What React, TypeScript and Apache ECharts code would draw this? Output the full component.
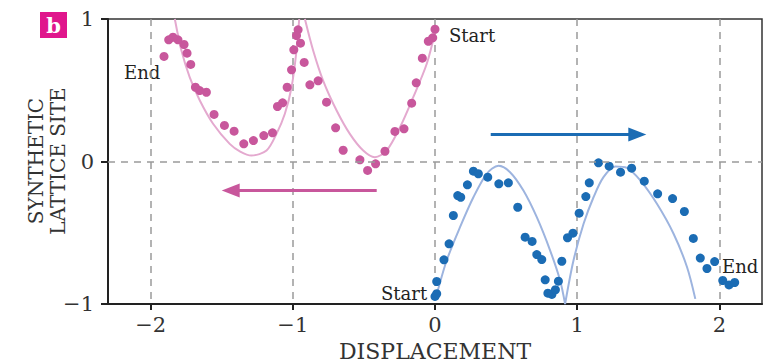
import React, { useEffect, useRef } from 'react';
import * as echarts from 'echarts';

const xTicks = [-2, -1, 0, 1, 2];
const yTicks = [-1, 0, 1];

const pinkDots: number[][] = [
  [0.0, 0.928], [-0.016, 0.868], [-0.047, 0.844], [-0.089, 0.725], [-0.132, 0.552],
  [-0.164, 0.409], [-0.218, 0.229], [-0.282, 0.211], [-0.352, 0.072], [-0.418, -0.016],
  [-0.474, -0.063], [-0.528, 0.012], [-0.646, 0.079], [-0.699, 0.236], [-0.763, 0.416],
  [-0.822, 0.566], [-0.88, 0.538], [-0.92, 0.695], [-0.946, 0.83], [-0.963, 0.924],
  [-0.974, 0.884], [-0.993, 0.784], [-1.009, 0.643], [-1.04, 0.521], [-1.072, 0.412],
  [-1.108, 0.386], [-1.143, 0.201], [-1.204, 0.182], [-1.277, 0.147], [-1.345, 0.124],
  [-1.413, 0.213], [-1.481, 0.253], [-1.554, 0.33], [-1.608, 0.486], [-1.655, 0.498],
  [-1.685, 0.521], [-1.718, 0.681], [-1.744, 0.76], [-1.765, 0.821], [-1.808, 0.854],
  [-1.843, 0.872], [-1.873, 0.854], [-1.906, 0.737],
];

const blueDots: number[][] = [
  [0.0, -0.947], [0.012, -0.928], [0.012, -0.842], [0.063, -0.69], [0.099, -0.578],
  [0.129, -0.379], [0.16, -0.239], [0.181, -0.251], [0.228, -0.164], [0.27, -0.068],
  [0.305, -0.086], [0.371, -0.11], [0.449, -0.157], [0.516, -0.15], [0.582, -0.321],
  [0.634, -0.531], [0.683, -0.561], [0.716, -0.653], [0.751, -0.688], [0.775, -0.83],
  [0.794, -0.924], [0.822, -0.933], [0.847, -0.9], [0.868, -0.84], [0.892, -0.7],
  [0.932, -0.535], [0.97, -0.503], [1.014, -0.363], [1.061, -0.246], [1.085, -0.15],
  [1.15, -0.009], [1.225, -0.033], [1.305, -0.075], [1.383, -0.047], [1.472, -0.138],
  [1.566, -0.227], [1.671, -0.26], [1.754, -0.351], [1.817, -0.54], [1.866, -0.678],
  [1.913, -0.751], [1.967, -0.702], [2.024, -0.835], [2.068, -0.866], [2.108, -0.849],
];

const pinkFitA: number[][] = [
  [-1.83, 1.0], [-1.784, 0.78], [-1.725, 0.59], [-1.655, 0.43], [-1.561, 0.265],
  [-1.444, 0.124], [-1.37, 0.07], [-1.291, 0.042], [-1.185, 0.077], [-1.115, 0.194],
  [-1.056, 0.335], [-1.009, 0.521], [-0.974, 0.779], [-0.955, 1.0],
];
const pinkFitB: number[][] = [
  [-0.915, 1.0], [-0.857, 0.779], [-0.787, 0.568], [-0.692, 0.358], [-0.599, 0.194],
  [-0.505, 0.077], [-0.423, 0.03], [-0.34, 0.077], [-0.246, 0.241], [-0.153, 0.451],
  [-0.058, 0.686], [0.0, 0.907],
];
const blueFitA: number[][] = [
  [0.005, -0.96], [0.082, -0.695], [0.176, -0.461], [0.27, -0.251], [0.364, -0.086],
  [0.446, -0.03], [0.528, -0.075], [0.622, -0.204], [0.716, -0.391], [0.81, -0.625],
  [0.88, -0.835], [0.915, -1.0],
];
const blueFitB: number[][] = [
  [0.915, -1.0], [0.974, -0.695], [1.045, -0.437], [1.115, -0.251], [1.185, -0.11],
  [1.268, -0.035], [1.35, -0.045], [1.444, -0.133], [1.561, -0.297], [1.678, -0.507],
  [1.773, -0.742], [1.831, -0.964],
];

const pinkArrow: number[][] = [[-0.41, -0.204], [-1.437, -0.204]];
const blueArrow: number[][] = [[0.392, 0.19], [1.423, 0.19]];

const PINK = '#c8579c';
const PINK_FIT = '#e4a9cf';
const BLUE = '#1b6cb4';
const BLUE_FIT = '#9db4df';
const FONT = 'DejaVu Serif';

const minus = (v: number) => String(v).replace('-', '\u2212');

export default function App() {
  const ref = useRef<HTMLDivElement>(null);
  useEffect(() => {
    document.body.style.margin = '0';
    document.body.style.overflow = 'hidden';
    const chart = echarts.init(ref.current!, null, { renderer: 'svg' });
    const dash = { color: '#9a9a9a', type: [7, 6] as any, width: 1.5 };
    const option: any = {
      animation: false,
      backgroundColor: '#fff',
      grid: {
        left: 108, right: 2, top: 19, bottom: 59, show: true, borderColor: '#333', borderWidth: 1.5,
        containLabel: false, outerBoundsMode: 'none',
      },
      xAxis: {
        type: 'value', min: -2.3, max: 2.3,
        axisLine: { onZero: false, lineStyle: { color: '#222', width: 2 } },
        axisTick: { customValues: xTicks, length: 6, lineStyle: { color: '#222', width: 2 } },
        axisLabel: { customValues: xTicks, formatter: minus, fontFamily: FONT, fontSize: 21, color: '#333', margin: 10 },
        splitLine: { show: true, lineStyle: dash },
        name: 'DISPLACEMENT', nameLocation: 'middle', nameGap: 36,
        nameTextStyle: { fontFamily: FONT, fontSize: 22, color: '#333' },
      },
      yAxis: {
        type: 'value', min: -1, max: 1, interval: 1,
        axisLine: { onZero: false, lineStyle: { color: '#222', width: 2 } },
        axisTick: { customValues: yTicks, length: 7, lineStyle: { color: '#222', width: 2 } },
        axisLabel: { customValues: yTicks, formatter: minus, fontFamily: FONT, fontSize: 21, color: '#333', margin: 14 },
        splitLine: { show: false },
      },
      series: [
        {
          type: 'line', data: [...pinkFitA, [null, null], ...pinkFitB], showSymbol: false, smooth: 0.3,
          connectNulls: false, lineStyle: { color: PINK_FIT, width: 2 }, z: 2, silent: true,
          markLine: {
            silent: true, animation: false, symbol: ['none', 'triangle'], symbolSize: [14, 18],
            label: { show: false },
            data: [
              [
                { coord: pinkArrow[0], lineStyle: { color: PINK, width: 3, type: 'solid' }, itemStyle: { color: PINK } },
                { coord: pinkArrow[1] },
              ],
              [
                { coord: blueArrow[0], lineStyle: { color: BLUE, width: 3, type: 'solid' }, itemStyle: { color: BLUE } },
                { coord: blueArrow[1] },
              ],
            ],
          },
        },
        {
          type: 'line', data: [...blueFitA, [null, null], ...blueFitB], showSymbol: false, smooth: 0.3,
          connectNulls: false, lineStyle: { color: BLUE_FIT, width: 2 }, z: 2, silent: true,
          markLine: {
            silent: true, animation: false, symbol: 'none',
            label: { show: false }, lineStyle: dash,
            data: [{ yAxis: 0 }],
          },
        },
        { type: 'scatter', data: pinkDots, symbolSize: 9, itemStyle: { color: PINK, opacity: 1 }, z: 3 },
        { type: 'scatter', data: blueDots, symbolSize: 9, itemStyle: { color: BLUE, opacity: 1 }, z: 3 },
      ],
      graphic: [
        { type: 'rect', shape: { x: 40, y: 12, width: 27, height: 26 }, style: { fill: '#e0168c' } },
        { type: 'text', x: 53.5, y: 25, style: { text: 'b', fill: '#fff', font: 'bold 21px "DejaVu Serif"', align: 'center', verticalAlign: 'middle' } },
        {
          type: 'text', x: 47, y: 161, rotation: Math.PI / 2,
          style: { text: 'SYNTHETIC\nLATTICE SITE', fill: '#333', font: '20px "DejaVu Serif"', align: 'center', verticalAlign: 'middle', lineHeight: 22 },
        },
        { type: 'text', x: 449, y: 35, style: { text: 'Start', fill: '#222', font: '18px "DejaVu Serif"', align: 'left', verticalAlign: 'middle' } },
        { type: 'text', x: 124, y: 72, style: { text: 'End', fill: '#222', font: '18px "DejaVu Serif"', align: 'left', verticalAlign: 'middle' } },
        { type: 'text', x: 381, y: 293, style: { text: 'Start', fill: '#222', font: '18px "DejaVu Serif"', align: 'left', verticalAlign: 'middle' } },
        { type: 'text', x: 722, y: 266, style: { text: 'End', fill: '#222', font: '18px "DejaVu Serif"', align: 'left', verticalAlign: 'middle' } },
      ],
    };
    chart.setOption(option);
    return () => chart.dispose();
  }, []);
  return <div ref={ref} style={{ width: 764, height: 363, background: '#fff' }} />;
}
